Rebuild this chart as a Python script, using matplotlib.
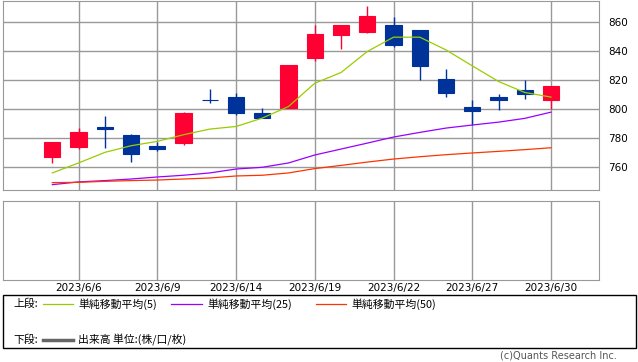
import numpy as np
import matplotlib.pyplot as plt
from matplotlib.patches import Rectangle
from matplotlib.lines import Line2D

W, H = 638, 362

# trading days 2023/6/5 .. 2023/6/30
dates = ['6/5', '6/6', '6/7', '6/8', '6/9', '6/12', '6/13', '6/14', '6/15', '6/16',
         '6/19', '6/20', '6/21', '6/22', '6/23', '6/26', '6/27', '6/28', '6/29', '6/30']
opens = [766.7, 773.6, 787.8, 782.3, 774.7, 776.3, 806.5, 808.5, 797.5, 800.5,
         835.6, 851.5, 853.3, 858.2, 854.7, 820.9, 801.6, 808.5, 812.9, 806.0]
closes = [777.5, 784.4, 786.0, 768.7, 772.2, 797.5, 806.3, 797.0, 794.2, 830.6,
          852.0, 858.2, 864.4, 844.6, 830.1, 810.8, 798.4, 806.2, 810.3, 816.1]
highs = [777.5, 787.1, 795.4, 783.0, 777.5, 798.2, 814.0, 811.3, 800.9, 830.6,
         858.2, 858.2, 871.3, 863.7, 854.7, 827.8, 806.4, 810.6, 820.2, 816.1]
lows = [762.5, 772.2, 772.9, 763.2, 770.8, 774.9, 803.9, 795.6, 794.2, 800.5,
        833.3, 841.6, 852.6, 843.2, 820.2, 808.5, 788.7, 799.1, 806.9, 800.2]
ma5 = [755.9, 762.8, 770.1, 774.7, 777.7, 782.3, 786.2, 788.0, 793.8, 801.8,
       817.9, 825.3, 839.8, 849.7, 849.7, 840.9, 829.9, 819.1, 811.5, 808.3]
ma25 = [747.8, 749.7, 750.6, 751.7, 753.1, 754.3, 755.9, 758.6, 759.8, 762.8,
        768.3, 772.4, 776.5, 780.7, 783.9, 786.9, 789.0, 791.0, 793.6, 797.9]
ma50 = [749.2, 749.4, 750.1, 750.6, 751.0, 751.7, 752.4, 753.8, 754.3, 755.9,
        758.9, 761.1, 763.4, 765.5, 767.1, 768.5, 769.7, 770.8, 772.0, 773.3]
tick_idx = [1, 4, 7, 10, 13, 16, 19]
tick_labels = ['2023/6/6', '2023/6/9', '2023/6/14', '2023/6/19',
               '2023/6/22', '2023/6/27', '2023/6/30']
yticks = [760, 780, 800, 820, 840, 860]

UP = '#ff0033'
DOWN = '#003399'
GRID = '#999999'
jp = ['Noto Sans CJK JP', 'DejaVu Sans']


def box(l, t, r, b):
    # pixel box -> figure fraction
    return [l / W, 1 - b / H, (r - l) / W, (b - t) / H]


fig = plt.figure(figsize=(W / 100, H / 100), dpi=100)

x = np.arange(len(dates))
xlim = (-1.88, 20.81)

# upper panel: candles + moving averages
ax = fig.add_axes(box(3, 1, 598.5, 190.3))
ax.set_xlim(*xlim)
ax.set_ylim(743.9, 874.7)
for i in x:
    o, c = opens[i], closes[i]
    col = UP if c > o else DOWN
    ax.vlines(i, lows[i], highs[i], color=col, lw=1, zorder=3)
    ax.bar(i, c - o, bottom=o, width=0.62, color=col, edgecolor=col,
           lw=0.8, zorder=4)
ax.plot(x, ma5, color='#99cc00', lw=0.9, zorder=5)
ax.plot(x, ma25, color='#9900ff', lw=0.9, zorder=5)
ax.plot(x, ma50, color='#ff3300', lw=0.9, zorder=5)
ax.set_xticks(tick_idx)
ax.set_xticklabels([])
ax.set_yticks(yticks)
ax.yaxis.tick_right()
ax.tick_params(length=0, labelsize=7.5, pad=7)
ax.grid(True, color=GRID, lw=1)
ax.set_axisbelow(True)
for s in ax.spines.values():
    s.set_color(GRID)

# lower panel: volume (empty)
ax2 = fig.add_axes(box(3, 201.3, 598.5, 280))
ax2.set_xlim(*xlim)
ax2.set_ylim(0, 1)
ax2.set_xticks(tick_idx)
ax2.set_xticklabels(tick_labels)
ax2.set_yticks([])
ax2.tick_params(length=0, labelsize=7.5, pad=2.5)
ax2.grid(True, axis='x', color=GRID, lw=1)
for s in ax2.spines.values():
    s.set_color(GRID)

# legend box
fig.patches.append(Rectangle((3 / W, 1 - 347.7 / H), 633 / W, 53 / H,
                             transform=fig.transFigure, fill=False,
                             edgecolor='black', lw=1))


def legend_line(x0, x1, y, color, lw):
    fig.lines.append(Line2D([x0 / W, x1 / W], [1 - y / H, 1 - y / H],
                            transform=fig.transFigure, color=color, lw=lw))


def legend_text(x0, y, s):
    fig.text(x0 / W, 1 - y / H, s, family=jp, fontsize=7.8, va='center', ha='left')


legend_text(13, 304, '上段:')
legend_line(43, 73, 304, '#99cc00', 0.9)
legend_text(78, 304, '単純移動平均(5)')
legend_line(171, 202, 304, '#9900ff', 0.9)
legend_text(207, 304, '単純移動平均(25)')
legend_line(316, 346, 304, '#ff3300', 0.9)
legend_text(351, 304, '単純移動平均(50)')
legend_text(13, 340, '下段:')
legend_line(43, 73, 340, '#666666', 2.5)
legend_text(78, 340, '出来高 単位:(株/口/枚)')

fig.text(617 / W, 1 - 355.5 / H, '(c)Quants Research Inc.', fontsize=7,
         color='#555555', ha='right', va='center')

fig.savefig('out.png', dpi=100)
